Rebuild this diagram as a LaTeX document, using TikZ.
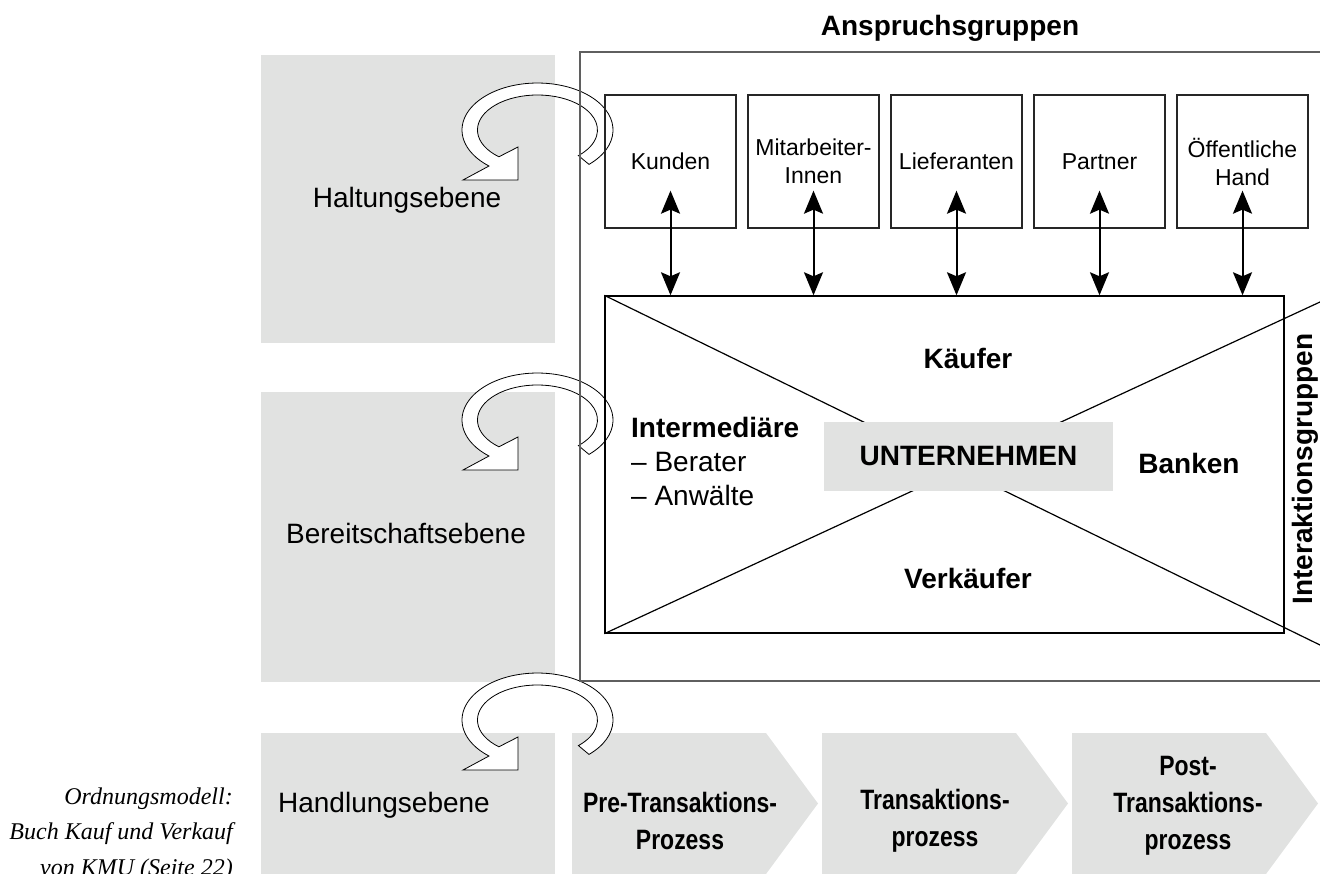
\documentclass[tikz,border=0pt]{standalone}
\usepackage{fontspec}
\setmainfont{Liberation Sans}
\newfontfamily\condfont[FakeStretch=0.82]{Liberation Sans}
\newfontfamily\capfont{Liberation Serif}
\usetikzlibrary{arrows.meta}
\definecolor{panel}{RGB}{225,226,225}
\definecolor{framegray}{RGB}{95,95,95}
\newcommand\ringarrow[2]{%
\begin{scope}[shift={(#1,#2)}]
\filldraw[fill=white,draw=black,line width=0.8pt]
 (51.5,34.4) arc[start angle=47,end angle=-230,x radius=75.5,y radius=47]
 -- (-74.5,50) -- (-19.5,50) -- (-19.5,17) -- (-38.6,26.8)
 arc[start angle=-230,end angle=47,x radius=60,y radius=35] -- cycle;
\end{scope}}
\tikzset{
 lvl/.style={font=\fontsize{28}{34}\selectfont},
 boldlbl/.style={font=\fontsize{28}{34}\selectfont\bfseries},
 grp/.style={draw=black!85,line width=1.3pt,minimum width=131pt,minimum height=133pt,inner sep=0pt,align=center,font=\fontsize{23}{28}\selectfont},
 dbl/.style={{Stealth[length=23pt,width=19pt,inset=4pt]}-{Stealth[length=23pt,width=19pt,inset=4pt]},line width=2pt},
 diag/.style={line width=1.2pt},
 chevtext/.style={font=\condfont\bfseries\fontsize{28}{37}\selectfont,align=center},
}
\begin{document}
\begin{tikzpicture}[x=1pt,y=-1pt]
\useasboundingbox (0,0) rectangle (1320,874);
\clip (0,0) rectangle (1320,874);
% grey level panels
\fill[panel] (261,55) rectangle (555,343);
\fill[panel] (261,392) rectangle (555,682);
\fill[panel] (261,733) rectangle (555,874);
\node[lvl] (halt) at (407,200) {Haltungsebene};
\node[lvl] (bereit) at (406,533) {Bereitschaftsebene};
\node[lvl] (handl) at (384,805) {Handlungsebene};
% chevrons
\foreach \x in {572,822,1072}{
 \fill[panel] (\x,733) -- (\x+194,733) -- (\x+246,803.5) -- (\x+194,874) -- (\x,874) -- cycle;
}
\node[chevtext] (pre) at (680,821) {Pre-Transaktions-\\Prozess};
\node[chevtext] (trans) at (935,821) {Transaktions-\\prozess};
\node[chevtext] (post) at (1188,806) {Post-\\Transaktions-\\prozess};
% ring arrows
\ringarrow{537.5}{130}
\ringarrow{537.5}{420}
\ringarrow{537.5}{720}
% outer frame
\node[draw=framegray,line width=1.8pt,minimum width=780pt,minimum height=629pt,inner sep=0pt] (outer) at (970,366.5) {};
\node[boldlbl] (title) at (950,28) {Anspruchsgruppen};
% stakeholder boxes
\node[grp] (kunden) at (670.5,161.5) {Kunden};
\node[grp] (mitarb) at (813.5,161.5) {Mitarbeiter-\\Innen};
\node[grp] (liefer) at (956.5,161.5) {Lieferanten};
\node[grp] (partner) at (1099.5,161.5) {Partner};
\node[grp] (oeff) at (1242.5,161.5) {Öffentliche\\Hand};
% inner box
\node[draw=black,line width=1.4pt,minimum width=679pt,minimum height=337pt,inner sep=0pt] (inner) at (944.5,464.5) {};
\coordinate (dr1) at (1320,645);
\coordinate (dr2) at (1320,302);
\draw[diag] (inner.north west) -- (dr1);
\draw[diag] (inner.south west) -- (dr2);
\foreach \b in {kunden,mitarb,liefer,partner,oeff}{
 \draw[dbl] ([yshift=38pt]\b.south) -- (\b.south |- inner.north);
}
\node[fill=panel,minimum width=289pt,minimum height=69pt,boldlbl] (unt) at (968.5,456.5) {UNTERNEHMEN};
\node[boldlbl] (kaeufer) at (968,358) {Käufer};
\node[boldlbl] (verk) at (968,578) {Verkäufer};
\node[boldlbl] (banken) at (1189,463) {Banken};
\node[lvl,anchor=west,align=left,inner sep=0pt] (inter) at (631,461) {\textbf{Intermediäre}\\– Berater\\– Anwälte};
\node[boldlbl,rotate=90] (interakt) at (1305,469) {Interaktionsgruppen};
% caption
\node[anchor=east,align=right,inner sep=0pt,font=\capfont\itshape\fontsize{24}{35.5}\selectfont] (cap) at (233,834) {Ordnungsmodell:\\Buch Kauf und Verkauf\\von KMU (Seite 22)};
\end{tikzpicture}
\end{document}
